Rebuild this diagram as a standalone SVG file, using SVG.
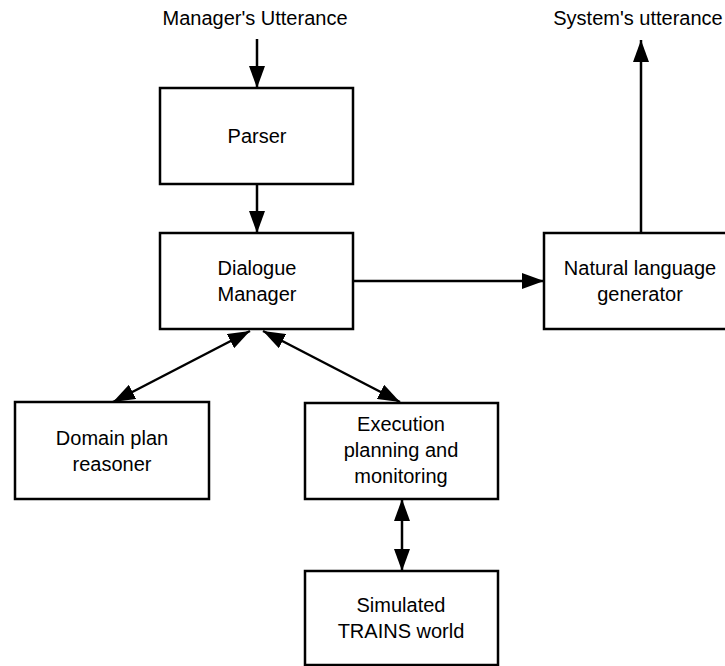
<svg xmlns="http://www.w3.org/2000/svg" width="725" height="666" viewBox="0 0 725 666">
<style>
.box{fill:#fff;stroke:#000;stroke-width:2.5}
.lbl{font-family:"Liberation Sans",Arial,sans-serif;font-size:20px;fill:#000;text-anchor:middle}
.conn{stroke:#000;stroke-width:2.5;fill:none}
</style>
<defs>
<marker id="ah" markerUnits="userSpaceOnUse" markerWidth="24" markerHeight="16" refX="22" refY="8" orient="auto-start-reverse">
<path d="M0,0 L22,8 L0,16 Z" fill="#000"/>
</marker>
</defs>
<rect width="725" height="666" fill="#fff"/>
<g id="connectors">
<line class="conn" x1="257" y1="39" x2="257" y2="88" marker-end="url(#ah)"/>
<line class="conn" x1="257" y1="184" x2="257" y2="233" marker-end="url(#ah)"/>
<line class="conn" x1="353" y1="281" x2="544" y2="281" marker-end="url(#ah)"/>
<line class="conn" x1="641" y1="233" x2="641" y2="40" marker-end="url(#ah)"/>
<line class="conn" x1="250" y1="331" x2="113" y2="402" marker-start="url(#ah)" marker-end="url(#ah)"/>
<line class="conn" x1="263" y1="331" x2="400" y2="402" marker-start="url(#ah)" marker-end="url(#ah)"/>
<line class="conn" x1="402" y1="499" x2="402" y2="571" marker-start="url(#ah)" marker-end="url(#ah)"/>
</g>
<g id="in-label"><text class="lbl" x="255" y="25">Manager's Utterance</text></g>
<g id="out-label"><text class="lbl" x="638" y="25">System's utterance</text></g>
<g id="parser"><rect class="box" x="160" y="88" width="193" height="96"/><text class="lbl" x="257" y="143">Parser</text></g>
<g id="dialogue-manager"><rect class="box" x="160" y="233" width="193" height="96"/><text class="lbl" x="257" y="275">Dialogue</text><text class="lbl" x="257" y="301">Manager</text></g>
<g id="nlg"><rect class="box" x="544" y="233" width="200" height="96"/><text class="lbl" x="640" y="275">Natural language</text><text class="lbl" x="640" y="301">generator</text></g>
<g id="domain"><rect class="box" x="15" y="402" width="194" height="97"/><text class="lbl" x="112" y="445">Domain plan</text><text class="lbl" x="112" y="471">reasoner</text></g>
<g id="execution"><rect class="box" x="305" y="403" width="193" height="96"/><text class="lbl" x="401" y="431">Execution</text><text class="lbl" x="401" y="457">planning and</text><text class="lbl" x="401" y="483">monitoring</text></g>
<g id="simulated"><rect class="box" x="305" y="571" width="193" height="94"/><text class="lbl" x="401" y="612">Simulated</text><text class="lbl" x="401" y="638">TRAINS world</text></g>
</svg>
